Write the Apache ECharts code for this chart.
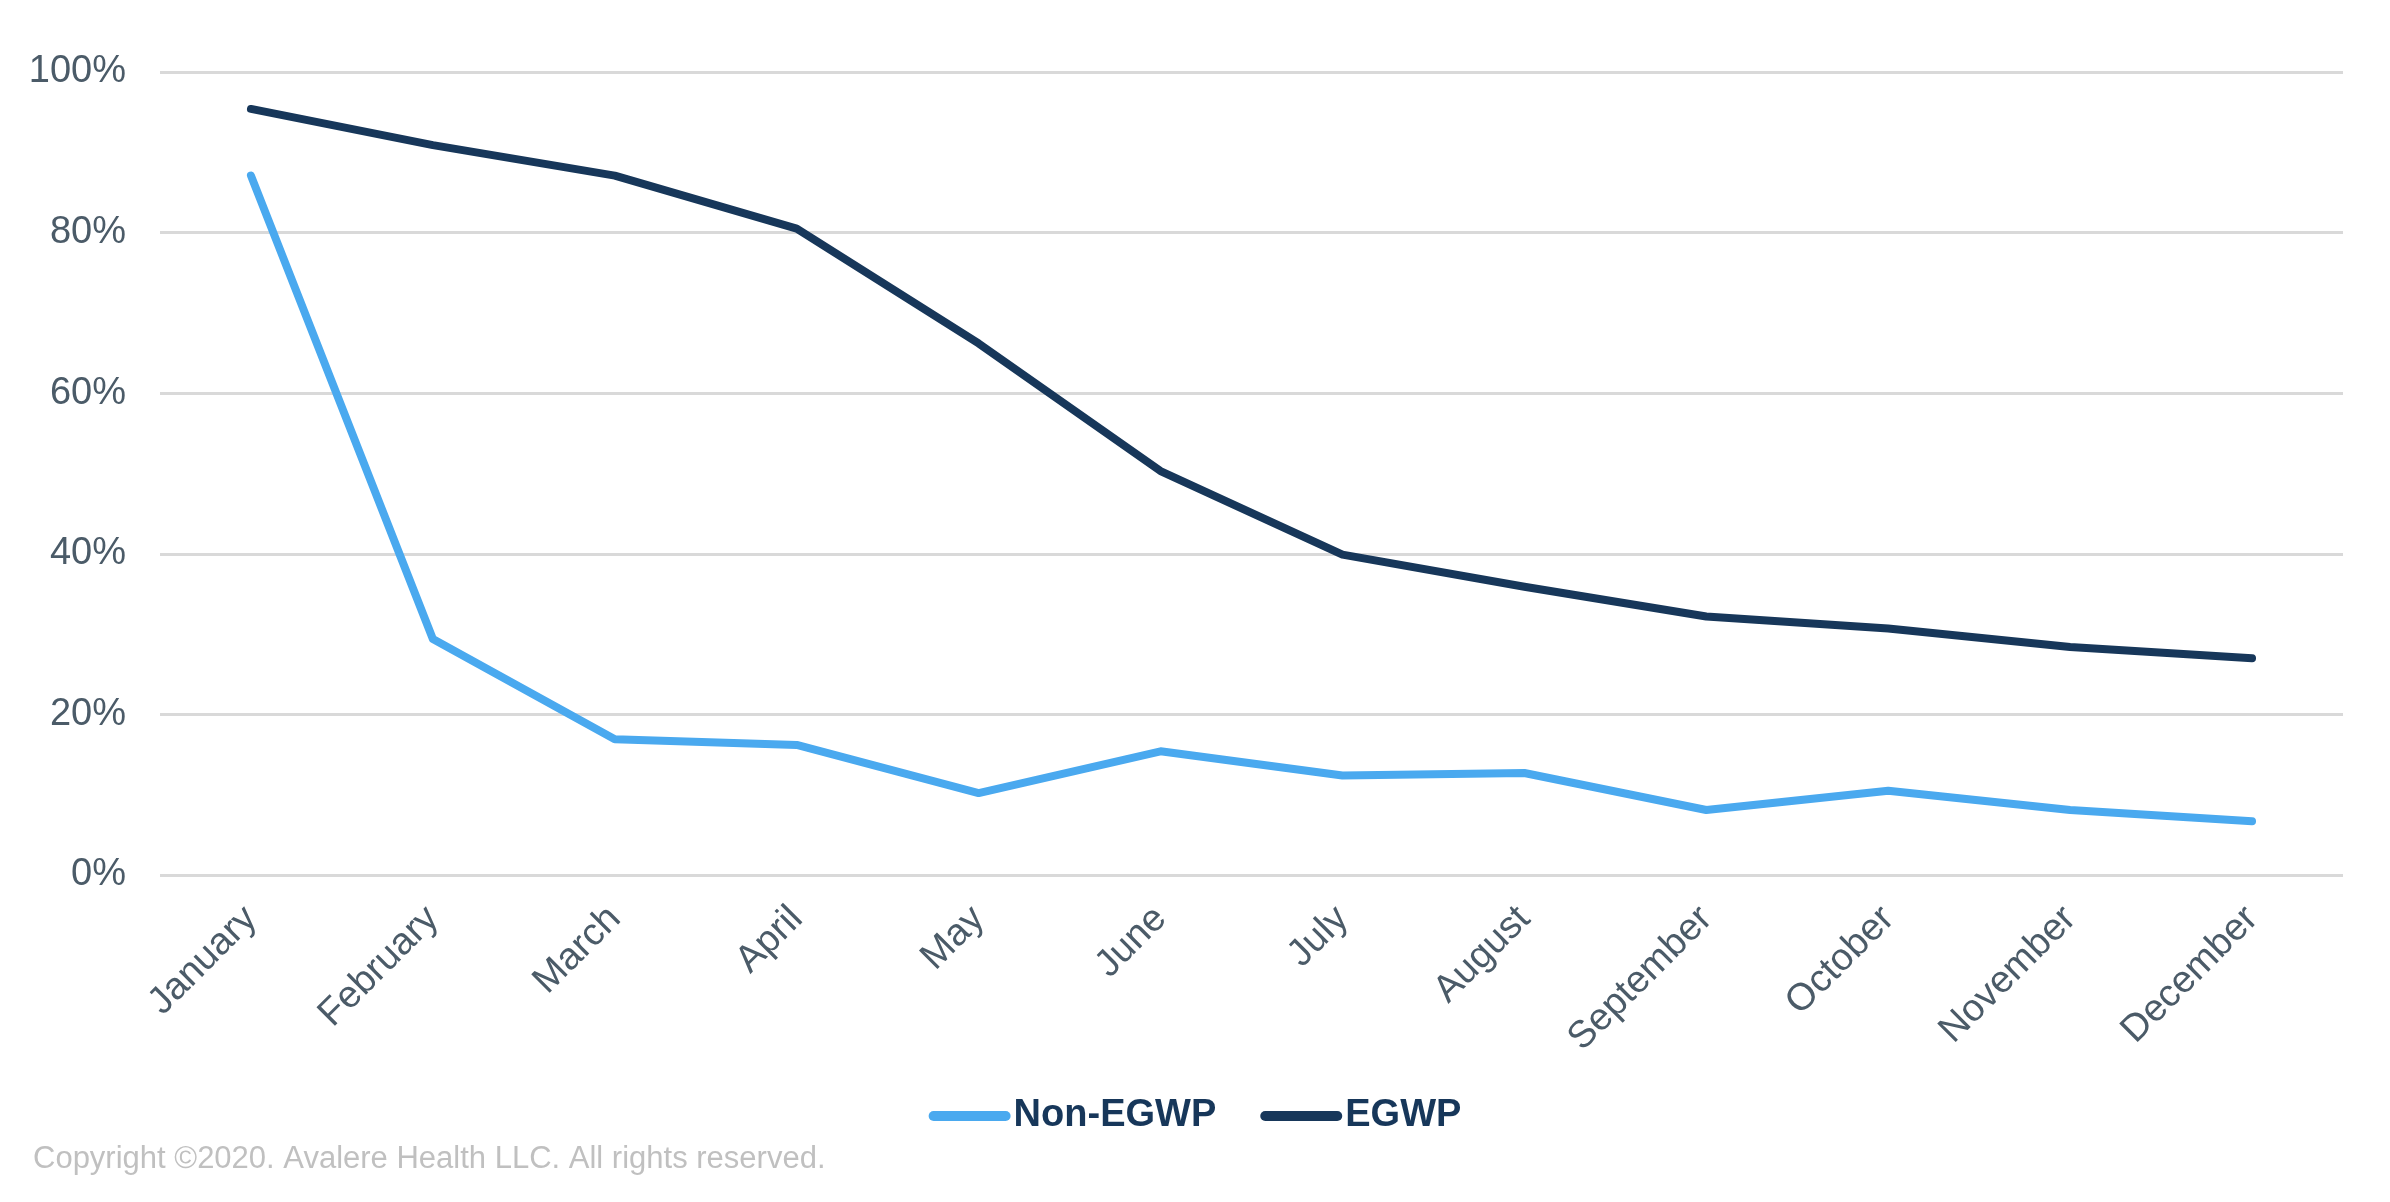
<!DOCTYPE html>
<html>
<head>
<meta charset="utf-8">
<script src="https://cdn.jsdelivr.net/npm/echarts@6/dist/echarts.min.js"></script>
<style>
html,body{margin:0;padding:0;background:#fff;}
#chart{width:2390px;height:1202px;}
</style>
</head>
<body>
<div id="chart"></div>
<script>
const months = ['January','February','March','April','May','June','July','August','September','October','November','December'];
const nonEgwp = [87.1, 29.4, 16.9, 16.2, 10.2, 15.4, 12.4, 12.7, 8.1, 10.5, 8.1, 6.7];
const egwp = [95.4, 90.9, 87.1, 80.5, 66.2, 50.3, 39.9, 35.9, 32.2, 30.7, 28.4, 27.0];
const yTicks = [0, 20, 40, 60, 80, 100];
const seriesNames = ['Non-EGWP', 'EGWP'];

const chart = echarts.init(document.getElementById('chart'));
const font = 'Arial, "Liberation Sans", Helvetica, sans-serif';
chart.setOption({
  animation: false,
  backgroundColor: '#ffffff',
  grid: { left: 160, right: 47, top: 72, bottom: 327 },
  xAxis: {
    type: 'category',
    data: months,
    boundaryGap: true,
    axisLine: { show: false },
    axisTick: { show: false },
    axisLabel: {
      rotate: 45,
      interval: 0,
      margin: 38,
      color: '#4b5b68',
      fontSize: 38,
      fontFamily: font
    }
  },
  yAxis: {
    type: 'value',
    min: yTicks[0],
    max: yTicks[yTicks.length - 1],
    interval: 20,
    axisLine: { show: false },
    axisTick: { show: false },
    splitLine: { lineStyle: { color: '#d9d9d9', width: 3 } },
    axisLabel: {
      margin: 34,
      color: '#4b5b68',
      fontSize: 38,
      fontFamily: font,
      formatter: v => v + '%'
    }
  },
  legend: {
    bottom: 62,
    left: 'center',
    itemWidth: 82,
    itemHeight: 10,
    itemGap: 44,
    icon: 'path://M5,0 H77 A5,5 0 0 1 77,10 H5 A5,5 0 0 1 5,0 Z',
    textStyle: { color: '#17375a', fontSize: 38, fontWeight: 'bold', fontFamily: font, padding: [0, 0, 0, -2] },
    data: seriesNames
  },
  graphic: [{
    type: 'text',
    left: 33,
    top: 1144,
    style: {
      text: 'Copyright \u00a92020. Avalere Health LLC. All rights reserved.',
      fill: '#c0c0c0',
      fontSize: 31,
      fontFamily: font
    }
  }],
  series: [
    {
      name: seriesNames[0],
      type: 'line',
      data: nonEgwp,
      symbol: 'none',
      color: '#4aa9ef',
      lineStyle: { color: '#4aa9ef', width: 8, cap: 'round', join: 'round' }
    },
    {
      name: seriesNames[1],
      type: 'line',
      data: egwp,
      symbol: 'none',
      color: '#17375a',
      lineStyle: { color: '#17375a', width: 8, cap: 'round', join: 'round' }
    }
  ]
});
</script>
</body>
</html>
